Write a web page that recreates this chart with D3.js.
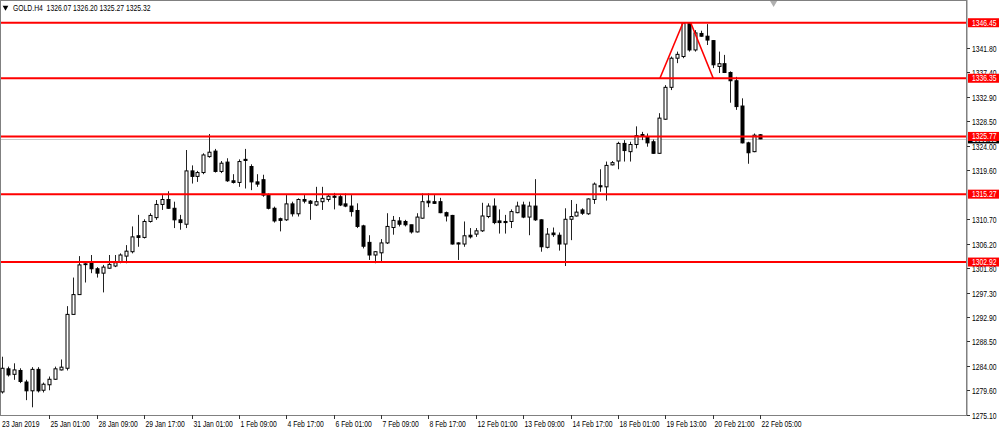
<!DOCTYPE html>
<html><head><meta charset="utf-8">
<script src="https://cdn.jsdelivr.net/npm/d3@7/dist/d3.min.js"></script>
<style>html,body{margin:0;padding:0;background:#fff;}svg{display:block;}</style>
</head><body>
<script>
const symbolTitle = "GOLD.H4  1326.07 1326.20 1325.27 1325.32";
const opens  = [1279.3,1283.5,1282.5,1283.2,1281.1,1279.5,1283.4,1279.6,1280.6,1281.6,1283.3,1283.6,1293.4,1297.0,1302.5,1302.8,1301.7,1300.9,1301.8,1302.2,1303.0,1304.0,1304.8,1307.7,1307.4,1310.3,1311.0,1313.4,1314.3,1312.7,1310.6,1309.8,1319.5,1318.5,1319.2,1322.1,1323.1,1319.4,1321.1,1317.7,1317.4,1321.6,1320.3,1317.5,1317.9,1315.1,1312.7,1310.8,1310.6,1313.5,1311.7,1314.3,1314.0,1313.3,1313.9,1314.3,1314.9,1314.8,1313.5,1313.1,1312.3,1309.5,1306.5,1304.2,1304.6,1306.4,1309.2,1310.4,1310.3,1309.7,1308.4,1310.9,1314.0,1313.9,1313.9,1311.9,1311.4,1306.4,1306.2,1307.8,1308.0,1308.6,1311.2,1313.1,1310.4,1310.3,1310.3,1311.9,1313.3,1311.1,1313.1,1310.6,1305.6,1308.2,1307.8,1306.2,1310.7,1311.3,1312.4,1311.7,1314.3,1316.8,1316.6,1320.6,1321.3,1324.5,1323.0,1324.3,1326.1,1325.7,1324.8,1322.7,1328.9,1334.7,1340.0,1340.3,1346.4,1341.5,1344.5,1344.0,1343.2,1338.5,1339.0,1337.4,1335.9,1331.3,1324.6,1323.0,1326.07];
const highs  = [1285.7,1283.9,1284.5,1283.6,1281.5,1283.8,1283.8,1281.0,1282.1,1283.9,1285.2,1294.9,1300.1,1304.0,1302.8,1304.2,1302.0,1302.4,1304.2,1304.2,1304.5,1306.0,1309.4,1311.5,1310.7,1311.8,1314.2,1315.1,1315.8,1313.9,1311.5,1323.3,1320.5,1319.5,1322.7,1326.2,1323.5,1321.3,1321.8,1318.9,1321.6,1323.5,1320.7,1318.9,1318.8,1315.4,1313.0,1311.0,1315.1,1313.9,1314.5,1315.1,1314.2,1316.6,1316.6,1315.1,1315.5,1315.1,1315.4,1315.1,1313.6,1309.7,1307.8,1304.9,1307.1,1311.8,1311.3,1311.1,1310.6,1309.7,1311.8,1315.4,1315.4,1315.1,1314.6,1312.1,1311.5,1306.5,1310.3,1309.1,1309.1,1313.7,1313.6,1314.5,1312.5,1311.5,1312.5,1313.9,1313.9,1313.9,1318.0,1310.7,1309.1,1309.2,1308.3,1312.7,1314.2,1313.5,1312.7,1314.5,1317.4,1319.8,1321.2,1321.3,1324.8,1325.1,1324.8,1327.6,1326.6,1326.3,1325.2,1330.0,1335.1,1340.3,1341.2,1346.45,1346.45,1345.1,1345.0,1346.2,1343.3,1341.2,1340.6,1337.6,1336.6,1332.7,1324.8,1326.3,1326.20];
const lows   = [1279.0,1282.1,1281.5,1280.9,1277.8,1276.5,1279.2,1279.2,1279.6,1281.5,1283.2,1283.2,1293.4,1297.0,1299.2,1300.9,1300.1,1297.4,1301.7,1302.0,1302.7,1302.7,1304.5,1305.7,1307.2,1310.1,1310.6,1312.4,1312.6,1309.1,1308.8,1309.1,1317.2,1317.5,1318.9,1321.9,1319.2,1319.1,1317.5,1317.2,1316.6,1316.3,1316.0,1316.6,1314.8,1312.5,1310.1,1308.5,1310.4,1311.2,1311.2,1313.6,1310.6,1313.1,1312.4,1313.9,1312.5,1313.1,1312.9,1311.2,1309.1,1305.4,1303.3,1302.7,1303.0,1306.2,1307.9,1309.4,1309.4,1308.1,1308.3,1310.8,1312.9,1313.5,1311.8,1310.3,1306.1,1303.3,1305.7,1307.2,1307.5,1308.4,1310.9,1309.8,1308.1,1308.1,1309.1,1311.8,1310.9,1307.8,1310.4,1304.8,1305.4,1307.5,1305.0,1302.2,1306.9,1311.2,1311.5,1311.5,1313.5,1315.7,1314.1,1320.5,1319.8,1321.2,1321.2,1323.6,1325.1,1323.9,1322.6,1322.6,1328.8,1334.2,1339.1,1340.0,1341.2,1341.2,1343.9,1342.4,1338.2,1337.3,1337.3,1331.9,1330.6,1324.5,1320.8,1322.9,1325.27];
const closes = [1283.6,1282.4,1283.3,1281.2,1279.5,1283.4,1279.5,1280.7,1281.6,1283.5,1283.8,1293.4,1297.0,1302.4,1302.6,1301.7,1300.9,1302.0,1302.5,1302.8,1304.2,1304.9,1307.5,1307.4,1310.3,1311.4,1313.4,1314.3,1312.7,1310.6,1310.1,1319.5,1318.5,1319.2,1322.4,1322.9,1319.4,1320.9,1317.7,1317.4,1321.2,1321.4,1317.5,1317.1,1315.1,1312.7,1310.4,1310.5,1313.5,1311.7,1314.3,1314.0,1313.6,1313.9,1314.5,1314.9,1314.7,1313.3,1313.1,1312.1,1309.4,1305.8,1304.2,1304.8,1306.4,1309.4,1310.5,1309.8,1309.7,1308.4,1311.1,1313.9,1313.7,1313.6,1311.9,1311.3,1306.2,1306.2,1307.7,1307.5,1308.6,1311.3,1313.1,1310.1,1310.1,1310.1,1312.1,1313.1,1311.1,1313.1,1310.6,1305.7,1308.0,1307.9,1306.2,1310.7,1311.2,1312.0,1311.8,1314.4,1317.1,1316.6,1320.5,1321.0,1324.5,1323.2,1324.3,1325.9,1326.0,1324.6,1322.7,1329.1,1334.7,1340.0,1340.7,1346.4,1341.5,1344.6,1344.0,1343.3,1338.8,1339.0,1337.4,1335.9,1331.2,1324.6,1322.8,1326.0,1325.32];
const dateLabels = ["23 Jan 2019","25 Jan 01:00","28 Jan 09:00","29 Jan 17:00","31 Jan 01:00","1 Feb 09:00","4 Feb 17:00","6 Feb 01:00","7 Feb 09:00","8 Feb 17:00","12 Feb 01:00","13 Feb 09:00","14 Feb 17:00","18 Feb 01:00","19 Feb 13:00","20 Feb 21:00","22 Feb 05:00"];
const priceTicks = [1341.80,1337.40,1332.90,1328.50,1324.00,1319.60,1310.70,1306.20,1301.80,1297.30,1292.90,1288.50,1284.00,1279.60,1275.10];
const levels = [1346.45,1336.35,1325.77,1315.27,1302.92];
const bidPrice = 1325.32;
const trendStartBar = [111.1,116.3];
const trendStartPrice = [1336.35,1346.45];
const trendEndBar = [115.0,120.1];
const trendEndPrice = [1346.45,1336.35];

const W = 999, H = 432;
const plotRight = 967, plotBottom = 415;
const svg = d3.select("body").append("svg").attr("width", W).attr("height", H)
  .style("font-family", "'Liberation Sans', Arial, sans-serif");

const x = d3.scaleLinear().domain([0, closes.length - 1]).range([2, 760]);
const y = d3.scaleLinear().domain([1275.10, 1341.80]).range([plotBottom, 48.3]);
const px = i => Math.round(x(i)) + 0.5;
const narrow = 0.82, fs = 8.3;

// frame
svg.append("rect").attr("x", 0.5).attr("y", 0.5).attr("width", plotRight - 0.5).attr("height", plotBottom)
  .attr("fill", "#fff").attr("stroke", "#808080");

// bid line
svg.append("line").attr("x1", 1).attr("x2", plotRight).attr("y1", Math.round(y(bidPrice)) + 0.5).attr("y2", Math.round(y(bidPrice)) + 0.5)
  .attr("stroke", "#c8c8c8").attr("stroke-width", 1);

// candles
const bars = d3.range(closes.length);
const g = svg.append("g");
g.selectAll("line.wick").data(bars).join("line").attr("class", "wick")
  .attr("x1", px).attr("x2", px)
  .attr("y1", i => y(highs[i])).attr("y2", i => y(lows[i]))
  .attr("stroke", "#222").attr("stroke-width", 1);
g.selectAll("rect.body").data(bars).join("rect").attr("class", "body")
  .attr("x", i => px(i) - 1.5).attr("width", 3)
  .attr("y", i => y(Math.max(opens[i], closes[i])))
  .attr("height", i => Math.max(0.8, Math.abs(y(opens[i]) - y(closes[i]))))
  .attr("fill", i => closes[i] >= opens[i] ? "#fff" : "#000")
  .attr("stroke", "#000").attr("stroke-width", 1);

// horizontal levels
svg.selectAll("line.level").data(levels).join("line").attr("class", "level")
  .attr("x1", 1).attr("x2", plotRight)
  .attr("y1", d => y(d)).attr("y2", d => y(d))
  .attr("stroke", "#ff0000").attr("stroke-width", 2);

// trendlines
svg.selectAll("line.trend").data(d3.range(trendStartBar.length)).join("line").attr("class", "trend")
  .attr("x1", k => x(trendStartBar[k])).attr("y1", k => y(trendStartPrice[k]))
  .attr("x2", k => x(trendEndBar[k])).attr("y2", k => y(trendEndPrice[k]))
  .attr("stroke", "#ff0000").attr("stroke-width", 1.6);

// right price axis
svg.append("line").attr("x1", plotRight - 0.5).attr("x2", plotRight - 0.5).attr("y1", 0).attr("y2", plotBottom + 1)
  .attr("stroke", "#808080");
const yt = svg.append("g");
priceTicks.forEach(p => {
  const yy = Math.round(y(p)) + 0.5;
  yt.append("line").attr("x1", plotRight).attr("x2", plotRight + 3).attr("y1", yy).attr("y2", yy).attr("stroke", "#333");
  yt.append("text").attr("transform", `translate(${plotRight + 5},${yy + 3}) scale(${narrow},1)`)
    .attr("font-size", fs).attr("fill", "#000").text(p.toFixed(2));
});
// bid label (mostly hidden)
const by = y(bidPrice);
svg.append("rect").attr("x", plotRight + 1).attr("y", by - 4.5).attr("width", W - plotRight - 1).attr("height", 9).attr("fill", "#000");
svg.append("text").attr("transform", `translate(${plotRight + 5},${by + 3}) scale(${narrow},1)`)
  .attr("font-size", fs).attr("fill", "#fff").text(bidPrice.toFixed(2));
// level labels
levels.forEach(p => {
  const yy = y(p);
  svg.append("rect").attr("x", plotRight + 1).attr("y", yy - 4.5).attr("width", W - plotRight - 1).attr("height", 9).attr("fill", "#ff0000");
  svg.append("text").attr("transform", `translate(${plotRight + 5},${yy + 3}) scale(${narrow},1)`)
    .attr("font-size", fs).attr("fill", "#fff").text(p.toFixed(2));
});

// bottom time axis
svg.append("line").attr("x1", 0).attr("x2", plotRight).attr("y1", plotBottom + 0.5).attr("y2", plotBottom + 0.5).attr("stroke", "#808080");
dateLabels.forEach((lab, k) => {
  const xx = Math.round(x(k * 8)) + 0.5;
  if (k > 0) svg.append("line").attr("x1", xx).attr("x2", xx).attr("y1", plotBottom).attr("y2", plotBottom + 4).attr("stroke", "#333");
  svg.append("text").attr("transform", `translate(${k === 0 ? 2 : xx + 1},${plotBottom + 12}) scale(${narrow},1)`)
    .attr("font-size", fs).attr("fill", "#000").text(lab);
});

// title
svg.append("path").attr("d", d3.symbol(d3.symbolTriangle, 14)()).attr("transform", "translate(5.5,7.5) rotate(180)").attr("fill", "#000");
svg.append("text").attr("transform", `translate(13,11) scale(${narrow},1)`).attr("font-size", fs).attr("fill", "#000")
  .attr("xml:space", "preserve").style("white-space", "pre").text(symbolTitle);

// chart shift marker
svg.append("path").attr("d", d3.symbol(d3.symbolTriangle, 22)()).attr("transform", `translate(${x(130.3)},3) rotate(180)`).attr("fill", "#b0b0b0");
</script>
</body></html>
